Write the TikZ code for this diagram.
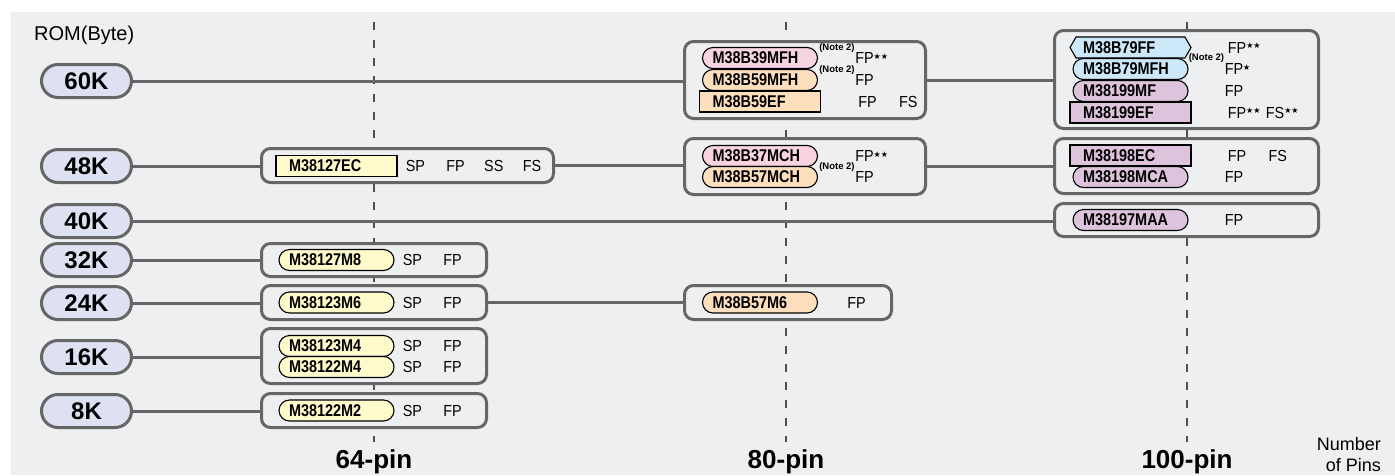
\documentclass[tikz,border=0pt]{standalone}
\usepackage{fontspec}
\setmainfont{Liberation Sans}
\newfontfamily\partfont{Liberation Sans}[FakeStretch=0.85]
\newfontfamily\specfont{Liberation Sans}[FakeStretch=0.9]
\newfontfamily\starfont{DejaVu Sans}
\usetikzlibrary{shapes,positioning}
\definecolor{panel}{RGB}{238,239,241}
\definecolor{edge}{RGB}{102,102,102}
\definecolor{axisgray}{RGB}{80,80,80}
\definecolor{romfill}{RGB}{221,225,242}
\definecolor{chipyellow}{RGB}{255,250,204}
\definecolor{chippink}{RGB}{248,212,225}
\definecolor{chippeach}{RGB}{253,223,190}
\definecolor{chipblue}{RGB}{205,232,248}
\definecolor{chipmauve}{RGB}{221,196,220}
\newcommand\twostars{\raisebox{4.5pt}{\starfont\fontsize{8}{8}\selectfont ★★}}
\newcommand\onestar{\raisebox{4.5pt}{\starfont\fontsize{8}{8}\selectfont ★}}
\tikzstyle{rom} = [rounded rectangle, draw=edge, line width=3pt, fill=romfill,
    minimum width=90pt, minimum height=33pt, inner sep=0pt,
    font=\bfseries\fontsize{24}{24}\selectfont]
\tikzstyle{group} = [rectangle, draw=edge, line width=3pt, fill=panel,
    rounded corners=9pt, inner sep=0pt]
\tikzstyle{part} = [draw=black, line width=1.1pt, text width=95pt, align=left,
    inner xsep=3pt, inner ysep=0pt, minimum width=121pt, minimum height=21pt,
    font=\partfont\bfseries\fontsize{17}{17}\selectfont]
\tikzstyle{chip} = [part, rounded rectangle]
\tikzstyle{chipbox} = [part, rectangle]
\tikzstyle{chiphex} = [part, signal, signal to=west and east, signal pointer angle=120]
\tikzstyle{spec} = [inner sep=0pt, font=\specfont\fontsize{16}{16}\selectfont]
\tikzstyle{note} = [inner sep=0pt, font=\bfseries\fontsize{9.5}{9.5}\selectfont]
\tikzstyle{pinlabel} = [inner sep=2pt, font=\bfseries\fontsize{26}{26}\selectfont]
\tikzstyle{axislabel} = [inner sep=0pt, font=\fontsize{18}{21}\selectfont]
\tikzstyle{axis} = [draw=axisgray, line width=1.8pt, dash pattern=on 8pt off 10pt]
\tikzstyle{link} = [draw=edge, line width=3pt]

\begin{document}
\begin{tikzpicture}[x=1pt, y=-1pt, node distance=8pt]
    \useasboundingbox (0,0) rectangle (1395,475);
    \fill[panel] (11,12) rectangle (1395,475);

    \node[axislabel, anchor=west, font=\fontsize{20}{20}\selectfont] (romname) at (34,35) {ROM(Byte)};
    \node[axislabel, align=right, anchor=east] (pinsname) at (1381,455) {Number\\of Pins};

    \node[pinlabel] (pin64) at (374,462) {64-pin};
    \node[pinlabel] (pin80) at (786,462) {80-pin};
    \node[pinlabel] (pin100) at (1187,462) {100-pin};
    \coordinate (top64) at (374,22);
    \coordinate (top80) at (786,22);
    \coordinate (top100) at (1187,22);
    \path[axis, shorten >=6pt] (top64) -- (pin64);
    \path[axis, shorten >=6pt] (top80) -- (pin80);
    \path[axis, shorten >=6pt] (top100) -- (pin100);

    \node[rom] (r60) at (86.5,81) {60K};
    \node[rom] (r48) at (86.5,166) {48K};
    \node[rom] (r40) at (86.5,221) {40K};
    \node[rom] (r32) at (86.5,260) {32K};
    \node[rom] (r24) at (86.5,303) {24K};
    \node[rom] (r16) at (86.5,357) {16K};
    \node[rom] (r8) at (86.5,411) {8K};

    \node[group, minimum width=292pt, minimum height=34pt] (g64a) at (407.5,165.5) {};
    \node[group, minimum width=225pt, minimum height=33pt] (g64b) at (374,260) {};
    \node[group, minimum width=225pt, minimum height=34pt] (g64c) at (374,302.5) {};
    \node[group, minimum width=225pt, minimum height=55pt] (g64d) at (374,356) {};
    \node[group, minimum width=225pt, minimum height=34pt] (g64e) at (374,410.5) {};
    \node[group, minimum width=241pt, minimum height=77pt] (g80a) at (805,80) {};
    \node[group, minimum width=241pt, minimum height=56pt] (g80b) at (805,166.5) {};
    \node[group, minimum width=207pt, minimum height=34pt] (g80c) at (788,302.5) {};
    \node[group, minimum width=264pt, minimum height=98pt] (g100a) at (1186.5,79.5) {};
    \node[group, minimum width=264pt, minimum height=55pt] (g100b) at (1186.5,166) {};
    \node[group, minimum width=264pt, minimum height=33pt] (g100c) at (1186.5,220) {};

    \node[chipbox, fill=chipyellow] (m127ec) at (336.5,166) {M38127EC};
    \node[spec, right=8pt of m127ec] (m127ecsp) {SP};
    \node[spec, right=21pt of m127ecsp] (m127ecfp) {FP};
    \node[spec, right=19pt of m127ecfp] (m127ecss) {SS};
    \node[spec, right=19pt of m127ecss] (m127ecfs) {FS};

    \node[chip, fill=chipyellow] (m127m8) at (336.5,260) {M38127M8};
    \node[spec, right=8pt of m127m8] (m127m8sp) {SP};
    \node[spec, right=21pt of m127m8sp] (m127m8fp) {FP};

    \node[chip, fill=chipyellow] (m123m6) at (336.5,302.5) {M38123M6};
    \node[spec, right=8pt of m123m6] (m123m6sp) {SP};
    \node[spec, right=21pt of m123m6sp] (m123m6fp) {FP};

    \node[chip, fill=chipyellow] (m123m4) at (336.5,346) {M38123M4};
    \node[spec, right=8pt of m123m4] (m123m4sp) {SP};
    \node[spec, right=21pt of m123m4sp] (m123m4fp) {FP};
    \node[chip, fill=chipyellow] (m122m4) at (336.5,367) {M38122M4};
    \node[spec, right=8pt of m122m4] (m122m4sp) {SP};
    \node[spec, right=21pt of m122m4sp] (m122m4fp) {FP};

    \node[chip, fill=chipyellow] (m122m2) at (336.5,410.5) {M38122M2};
    \node[spec, right=8pt of m122m2] (m122m2sp) {SP};
    \node[spec, right=21pt of m122m2sp] (m122m2fp) {FP};

    \node[chip, fill=chippink] (mb39mfh) at (760,58) {M38B39MFH};
    \node[note, anchor=south west] (mb39note) at ([xshift=1pt,yshift=5pt]mb39mfh.east) {(Note 2)};
    \node[spec, right=37pt of mb39mfh] (mb39fp) {FP\twostars};
    \node[chip, fill=chippeach] (mb59mfh) at (760,80) {M38B59MFH};
    \node[note, anchor=south west] (mb59note) at ([xshift=1pt,yshift=5pt]mb59mfh.east) {(Note 2)};
    \node[spec, right=37pt of mb59mfh] (mb59fp) {FP};
    \node[chipbox, fill=chippeach] (mb59ef) at (760,101.5) {M38B59EF};
    \node[spec, right=37pt of mb59ef] (mb59effp) {FP};
    \node[spec, right=22pt of mb59effp] (mb59effs) {FS};

    \node[chip, fill=chippink] (mb37mch) at (760,156) {M38B37MCH};
    \node[spec, right=37pt of mb37mch] (mb37fp) {FP\twostars};
    \node[chip, fill=chippeach] (mb57mch) at (760,177) {M38B57MCH};
    \node[note, anchor=south west] (mb57note) at ([xshift=1pt,yshift=5pt]mb57mch.east) {(Note 2)};
    \node[spec, right=37pt of mb57mch] (mb57fp) {FP};

    \node[chip, fill=chippeach] (mb57m6) at (760,302.5) {M38B57M6};
    \node[spec, right=29pt of mb57m6] (mb57m6fp) {FP};

    \node[chiphex, fill=chipblue] (mb79ff) at (1130.5,47.5) {M38B79FF};
    \node[spec, right=36pt of mb79ff] (mb79fffp) {FP\twostars};
    \node[chip, fill=chipblue] (mb79mfh) at (1130.5,69) {M38B79MFH};
    \node[note, anchor=south west] (mb79note) at ([xshift=0pt,yshift=6pt]mb79mfh.east) {(Note 2)};
    \node[spec, right=36pt of mb79mfh] (mb79fp) {FP\onestar};
    \node[chip, fill=chipmauve] (m199mf) at (1130.5,91) {M38199MF};
    \node[spec, right=36pt of m199mf] (m199mffp) {FP};
    \node[chipbox, fill=chipmauve] (m199ef) at (1130.5,112.5) {M38199EF};
    \node[spec, right=36pt of m199ef] (m199effp) {FP\twostars};
    \node[spec, right=5pt of m199effp] (m199effs) {FS\twostars};

    \node[chipbox, fill=chipmauve] (m198ec) at (1130.5,155.5) {M38198EC};
    \node[spec, right=36pt of m198ec] (m198ecfp) {FP};
    \node[spec, right=22pt of m198ecfp] (m198ecfs) {FS};
    \node[chip, fill=chipmauve] (m198mca) at (1130.5,177) {M38198MCA};
    \node[spec, right=36pt of m198mca] (m198mcafp) {FP};

    \node[chip, fill=chipmauve] (m197maa) at (1130.5,220) {M38197MAA};
    \node[spec, right=36pt of m197maa] (m197maafp) {FP};

    \path[link] (r60.east) -- (r60.east -| g80a.west);
    \path[link] (g80a.east) -- (g80a.east -| g100a.west);
    \path[link] (r48.east) -- (r48.east -| g64a.west);
    \path[link] (g64a.east) -- (g64a.east -| g80b.west);
    \path[link] (g80b.east) -- (g80b.east -| g100b.west);
    \path[link] (r40.east) -- (r40.east -| g100c.west);
    \path[link] (r32.east) -- (r32.east -| g64b.west);
    \path[link] (r24.east) -- (r24.east -| g64c.west);
    \path[link] (g64c.east) -- (g64c.east -| g80c.west);
    \path[link] (r16.east) -- (r16.east -| g64d.west);
    \path[link] (r8.east) -- (r8.east -| g64e.west);
\end{tikzpicture}
\end{document}
